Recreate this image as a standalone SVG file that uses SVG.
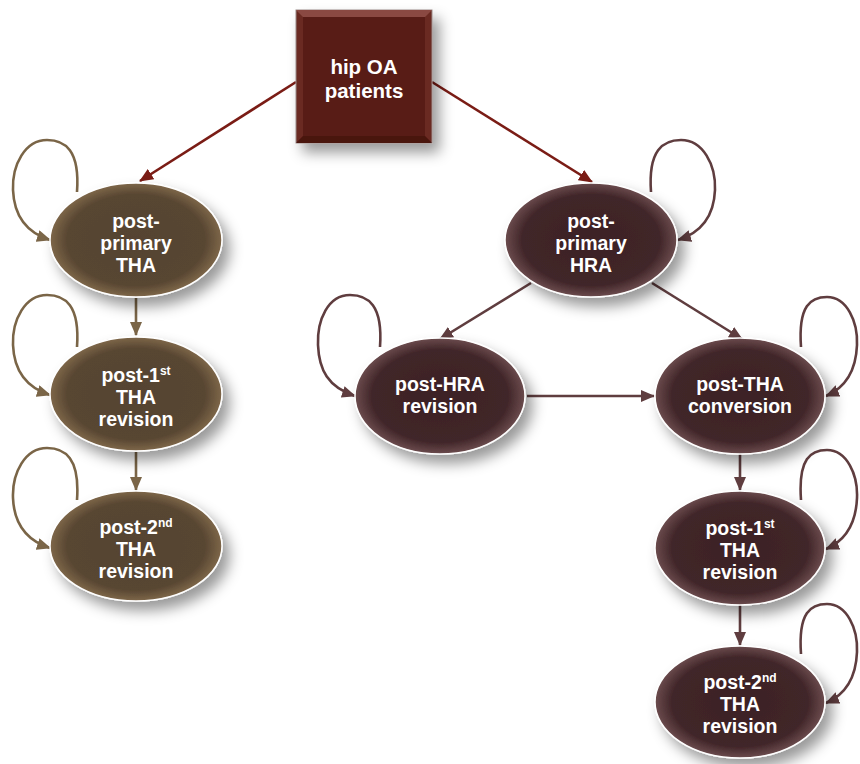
<svg xmlns="http://www.w3.org/2000/svg" width="860" height="764" viewBox="0 0 860 764">
<defs>
<filter id="sh" x="-30%" y="-30%" width="170%" height="170%">
<feDropShadow dx="7" dy="9" stdDeviation="7" flood-color="#000" flood-opacity="0.4"/>
</filter>
<radialGradient id="gOl" cx="50%" cy="50%" r="50%">
<stop offset="0" stop-color="#554330"/>
<stop offset="0.8" stop-color="#584632"/>
<stop offset="1" stop-color="#7e6749"/>
</radialGradient>
<radialGradient id="gMa" cx="50%" cy="50%" r="50%">
<stop offset="0" stop-color="#3c2225"/>
<stop offset="0.8" stop-color="#412629"/>
<stop offset="1" stop-color="#6b4b4d"/>
</radialGradient>
<marker id="aR" markerUnits="userSpaceOnUse" markerWidth="14" markerHeight="12" refX="13" refY="6" orient="auto">
<path d="M0,0 L14,6 L0,12 z" fill="#7a1c15"/>
</marker>
<marker id="aO" markerUnits="userSpaceOnUse" markerWidth="14" markerHeight="12" refX="13" refY="6" orient="auto">
<path d="M0,0 L14,6 L0,12 z" fill="#7a6547"/>
</marker>
<marker id="aM" markerUnits="userSpaceOnUse" markerWidth="14" markerHeight="12" refX="13" refY="6" orient="auto">
<path d="M0,0 L14,6 L0,12 z" fill="#5f3d3f"/>
</marker>
</defs>
<style>
.t{font-family:"Liberation Sans",Arial,sans-serif;font-weight:bold;font-size:19.5px;fill:#fff;text-anchor:middle}
.sup{font-size:12px}
.eo{fill:url(#gOl);stroke:#fff;stroke-width:1.5;filter:url(#sh)}
.em{fill:url(#gMa);stroke:#fff;stroke-width:1.5;filter:url(#sh)}
.cr{fill:none;stroke:#7a1c15;stroke-width:2.6;marker-end:url(#aR)}
.co{fill:none;stroke:#7a6547;stroke-width:2.6;marker-end:url(#aO)}
.cm{fill:none;stroke:#5f3d3f;stroke-width:2.6;marker-end:url(#aM)}
</style>
<rect width="860" height="764" fill="#fff"/>

<g id="connectors">
<path class="cr" d="M296,82 L140,181"/>
<path class="cr" d="M432,82 L592,182"/>
<path class="co" d="M136,298 L136,335"/>
<path class="co" d="M136,452 L136,490"/>
<path class="cm" d="M531,283 L440,339"/>
<path class="cm" d="M652,283 L742,339"/>
<path class="cm" d="M527,396 L654,396"/>
<path class="cm" d="M740,454 L740,490"/>
<path class="cm" d="M740,605 L740,645"/>
<!-- self loops left column -->
<path class="co" d="M77,192 C80,150 65,140 47,140 C25,140 12,165 13,190 C14,215 25,232 50,240"/>
<path class="co" d="M77,347 C80,305 65,295 47,295 C25,295 12,320 13,345 C14,370 25,387 50,395"/>
<path class="co" d="M77,500 C80,458 65,448 47,448 C25,448 12,473 13,498 C14,523 25,540 50,548"/>
<!-- self loops right -->
<path class="cm" d="M651,192 C648,150 663,140 681,140 C703,140 716,165 715,190 C714,215 703,232 678,240"/>
<path class="cm" d="M380,347 C383,305 368,295 350,295 C328,295 317,320 318,345 C319,370 328,387 355,396"/>
<path class="cm" d="M801,347 C798,305 811,297 827,297 C847,297 858,322 857,345 C856,370 847,387 826,396"/>
<path class="cm" d="M801,500 C798,458 811,450 827,450 C847,450 858,475 857,498 C856,523 847,540 826,549"/>
<path class="cm" d="M801,654 C798,612 811,604 827,604 C847,604 858,629 857,652 C856,677 847,694 826,703"/>
</g>

<g id="hip-oa">
<g filter="url(#sh)">
<rect x="296" y="10" width="136" height="133" fill="#6a2a23" stroke="#9a8a88" stroke-width="1"/>
<path d="M296,10 L432,10 L425,17 L303,17 z" fill="#8a4a43"/>
<path d="M296,143 L432,143 L425,136 L303,136 z" fill="#4a1511"/>
<rect x="303" y="17" width="122" height="119" fill="#591c16"/>
</g>
<text class="t" x="364" y="74" style="font-size:20.5px">hip OA</text>
<text class="t" x="364" y="98" style="font-size:20.5px">patients</text>
</g>

<g id="tha-primary">
<ellipse class="eo" cx="136" cy="240" rx="86" ry="57"/>
<text class="t" x="136" y="228">post-</text>
<text class="t" x="136" y="250">primary</text>
<text class="t" x="136" y="272">THA</text>
</g>
<g id="tha-rev1">
<ellipse class="eo" cx="136" cy="394" rx="86" ry="57"/>
<text class="t" x="136" y="382">post-1<tspan class="sup" dy="-7">st</tspan></text>
<text class="t" x="136" y="404">THA</text>
<text class="t" x="136" y="426">revision</text>
</g>
<g id="tha-rev2">
<ellipse class="eo" cx="136" cy="546" rx="86" ry="55"/>
<text class="t" x="136" y="534">post-2<tspan class="sup" dy="-7">nd</tspan></text>
<text class="t" x="136" y="556">THA</text>
<text class="t" x="136" y="578">revision</text>
</g>

<g id="hra-primary">
<ellipse class="em" cx="591" cy="240" rx="86" ry="57"/>
<text class="t" x="591" y="228">post-</text>
<text class="t" x="591" y="250">primary</text>
<text class="t" x="591" y="272">HRA</text>
</g>
<g id="hra-revision">
<ellipse class="em" cx="440" cy="396" rx="85" ry="58"/>
<text class="t" x="440" y="391">post-HRA</text>
<text class="t" x="440" y="413">revision</text>
</g>
<g id="tha-conversion">
<ellipse class="em" cx="740" cy="396" rx="85" ry="58"/>
<text class="t" x="740" y="391">post-THA</text>
<text class="t" x="740" y="413">conversion</text>
</g>
<g id="conv-rev1">
<ellipse class="em" cx="740" cy="548" rx="85" ry="57"/>
<text class="t" x="740" y="535">post-1<tspan class="sup" dy="-7">st</tspan></text>
<text class="t" x="740" y="557">THA</text>
<text class="t" x="740" y="579">revision</text>
</g>
<g id="conv-rev2">
<ellipse class="em" cx="740" cy="702" rx="85" ry="56"/>
<text class="t" x="740" y="689">post-2<tspan class="sup" dy="-7">nd</tspan></text>
<text class="t" x="740" y="711">THA</text>
<text class="t" x="740" y="733">revision</text>
</g>
</svg>
